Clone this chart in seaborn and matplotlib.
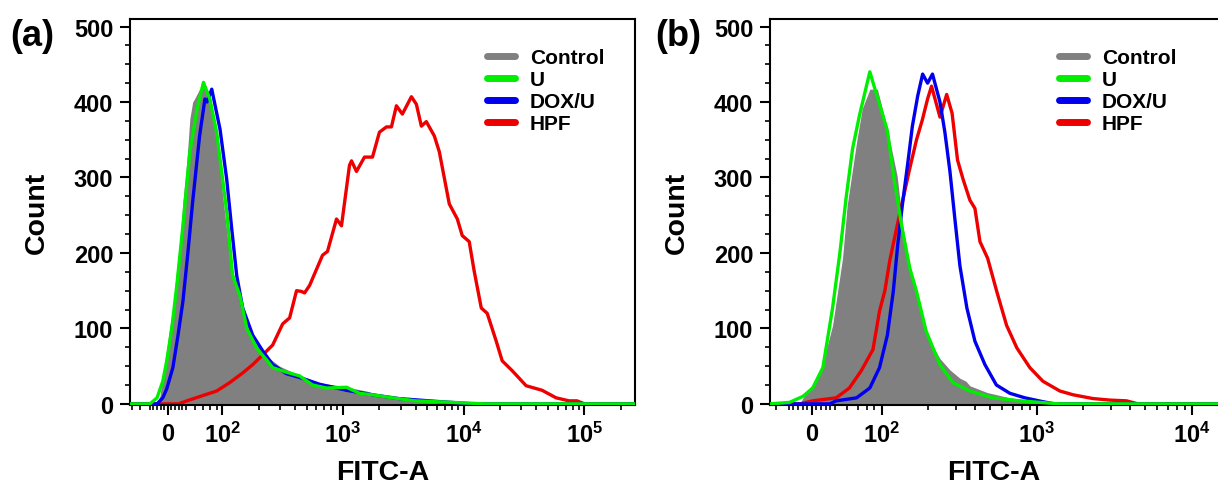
import matplotlib
matplotlib.use('Agg')
import matplotlib.pyplot as plt
from matplotlib.lines import Line2D
from matplotlib.ticker import FixedLocator, MultipleLocator
import seaborn as sb

# ---- data (x = FITC-A, y = count) ----
labels = ['Control', 'U', 'DOX/U', 'HPF']
colors = ['#808080', '#00ee00', '#0000ee', '#ee0000']

# panel (a)
a_ctrl_x = [-73, -50, -30, -22, -14, -3, 5, 14, 25, 33, 42, 51, 54, 57, 59, 65, 69, 79, 90, 101, 115, 132,
            160, 193, 234, 299, 317, 438, 640, 937, 1570, 2000, 2570, 5700, 10000, 20000, 262144]
a_ctrl_y = [0, 0, 3, 10, 38, 72, 100, 127, 180, 210, 268, 321, 378, 400, 404, 417, 420, 413, 355, 276, 197, 153,
            103, 78, 63, 50, 48, 38, 28, 24, 17, 12, 10, 5, 3, 0, 0]

a_u_x = [-73, -50, -30, -14, -3, 11, 25, 42, 54, 62, 70, 79, 90, 109, 122, 140, 160, 193, 217, 234, 262, 341,
         438, 560, 732, 1070, 1370, 1760, 2570, 4000, 8000, 15000, 262144]
a_u_y = [0, 0, 8, 30, 57, 100, 157, 236, 334, 391, 426, 404, 360, 255, 170, 144, 100, 74, 64, 58, 48, 42,
         37, 25, 21, 22, 14, 12, 8, 4, 2, 0, 0]

a_dox_x = [-73, -30, -14, -3, 14, 28, 42, 52, 57, 65, 72, 75, 82, 96, 109, 120, 132, 148, 179, 217, 262, 341,
           438, 640, 1070, 1760, 2900, 6300, 12000, 262144]
a_dox_y = [0, 0, 8, 20, 48, 90, 136, 200, 268, 355, 404, 400, 417, 364, 298, 232, 170, 127, 91, 70, 52, 40,
           35, 26, 18, 12, 7, 3, 0, 0]

a_hpf_x = [-73, 30, 51, 69, 90, 115, 148, 179, 217, 262, 317, 362, 413, 454, 481, 530, 560, 678, 745, 885, 973,
           1133, 1178, 1295, 1508, 1757, 2006, 2293, 2521, 2773, 3106, 3689, 4058, 4462, 4903, 5715, 6284, 7597,
           8857, 9727, 11110, 12212, 13987, 15656, 18602, 20839, 25205, 32908, 44588, 58255, 74514, 86727,
           100000, 262144]
a_hpf_y = [0, 0, 4, 11, 17, 28, 41, 52, 65, 78, 106, 114, 150, 149, 147, 157, 166, 197, 202, 245, 236,
           316, 322, 308, 327, 327, 360, 367, 367, 395, 384, 407, 397, 368, 374, 355, 334, 265,
           245, 223, 215, 176, 127, 120, 83, 57, 44, 24, 18, 8, 4, 4,
           0, 0]

# panel (b)
b_ctrl_x = [-66, -26, -19, -4, 17, 45, 56, 60, 69, 75, 84, 94, 108, 126, 137, 152, 177, 205, 238, 276, 320,
            350, 371, 480, 672, 1050, 1600, 14770]
b_ctrl_y = [0, 0, 8, 21, 38, 104, 193, 263, 347, 391, 417, 417, 368, 302, 236, 183, 123, 83, 60, 45, 34,
            30, 24, 15, 8, 3, 0, 0]

b_u_x = [-66, -48, -19, 2, 24, 45, 54, 59, 65, 72, 84, 97, 109, 120, 135, 152, 168, 194, 238, 289, 371, 520,
         780, 1400, 14770]
b_u_y = [0, 2, 10, 21, 48, 127, 202, 272, 338, 382, 440, 397, 362, 300, 235, 180, 149, 96, 52, 28, 17, 8,
         4, 0, 0]

b_dox_x = [-66, 39, 51, 69, 84, 97, 109, 119, 127, 137, 148, 158, 171, 184, 198, 213, 238, 256, 276, 297, 320,
           355, 400, 464, 550, 672, 840, 1090, 1300, 14770]
b_dox_y = [0, 0, 4, 8, 21, 48, 91, 149, 210, 268, 321, 368, 408, 437, 425, 437, 400, 360, 308, 245, 183,
           127, 83, 52, 25, 14, 8, 3, 0, 0]

b_hpf_x = [-66, -26, 2, 51, 62, 74, 88, 97, 105, 113, 126, 137, 152, 168, 183, 198, 210, 238, 263, 285, 309,
           335, 371, 400, 431, 483, 553, 640, 746, 904, 1097, 1413, 1721, 2314, 2970, 3800, 4500, 14770]
b_hpf_y = [0, 0, 4, 8, 21, 44, 72, 123, 150, 190, 236, 270, 312, 350, 376, 404, 421, 380, 410, 385, 323,
           298, 270, 259, 215, 193, 149, 104, 74, 48, 30, 17, 12, 7, 5, 4, 0, 0]

a_xlim = (-73, 262144)
b_xlim = (-66, 14770)
a_major = [0, 100, 1000, 10000, 100000]
b_major = [0, 100, 1000, 10000]
major_labels = ['0', r'$\mathbf{10^{2}}$', r'$\mathbf{10^{3}}$', r'$\mathbf{10^{4}}$', r'$\mathbf{10^{5}}$']
minor_ticks = ([-70, -60, -50, -40, -30, -20, -10, 10, 20, 30, 40, 50, 60, 70, 80, 90]
               + [200, 300, 400, 500, 600, 700, 800, 900]
               + [2000, 3000, 4000, 5000, 6000, 7000, 8000, 9000]
               + [20000, 30000, 40000, 50000, 60000, 70000, 80000, 90000, 200000])

sb.set_style('ticks')
plt.rcParams['font.family'] = ['Liberation Sans', 'DejaVu Sans']
plt.rcParams['font.weight'] = 'bold'
plt.rcParams['mathtext.fontset'] = 'custom'
plt.rcParams['mathtext.bf'] = 'Liberation Sans:bold'
plt.rcParams['mathtext.rm'] = 'Liberation Sans:bold'
for key in ['text.color', 'axes.labelcolor', 'xtick.color', 'ytick.color', 'axes.edgecolor']:
    plt.rcParams[key] = 'black'

fig = plt.figure(figsize=(12.18, 4.85), dpi=100)
ax_a = fig.add_axes([130 / 1218, 79 / 485, 505 / 1218, 386 / 485])
ax_b = fig.add_axes([770 / 1218, 79 / 485, 448 / 1218, 386 / 485])


def draw_panel(ax, ctrl, u, dox, hpf, xlim, major, legend_x):
    ax.fill_between(ctrl[0], ctrl[1], 0, color=colors[0], linewidth=0, zorder=1)
    sb.lineplot(x=hpf[0], y=hpf[1], ax=ax, color=colors[3], lw=2.4, estimator=None, zorder=2)
    sb.lineplot(x=dox[0], y=dox[1], ax=ax, color=colors[2], lw=2.4, estimator=None, zorder=3)
    sb.lineplot(x=u[0], y=u[1], ax=ax, color=colors[1], lw=2.4, estimator=None, zorder=4)

    ax.set_xscale('symlog', linthresh=50, linscale=0.134, base=10)
    ax.set_xlim(*xlim)
    ax.set_ylim(-1.5, 510)

    ax.xaxis.set_major_locator(FixedLocator(major))
    ax.set_xticklabels(major_labels[:len(major)])
    ax.xaxis.set_minor_locator(FixedLocator([t for t in minor_ticks if xlim[0] < t < xlim[1]]))
    ax.yaxis.set_major_locator(MultipleLocator(100))
    ax.yaxis.set_minor_locator(MultipleLocator(25))

    ax.tick_params(which='major', direction='out', length=7, width=1.5, labelsize=17, pad=5)
    ax.tick_params(which='minor', direction='out', length=3.5, width=1.2)
    for lab in ax.get_xticklabels() + ax.get_yticklabels():
        lab.set_fontweight('bold')
    for s in ax.spines.values():
        s.set_linewidth(1.5)
        s.set_color('black')

    ax.set_xlabel('FITC-A', fontsize=20.5, fontweight='bold')
    ax.set_ylabel('Count', fontsize=20.5, fontweight='bold')

    handles = [Line2D([0], [0], color=c, lw=5) for c in colors]
    ax.legend(handles, labels, loc='upper left', bbox_to_anchor=(legend_x, 0.925), frameon=False,
              prop={'size': 15, 'weight': 'bold'}, handlelength=1.35, handletextpad=0.7,
              labelspacing=0.15, borderpad=0, borderaxespad=0)


draw_panel(ax_a, (a_ctrl_x, a_ctrl_y), (a_u_x, a_u_y), (a_dox_x, a_dox_y), (a_hpf_x, a_hpf_y),
           a_xlim, a_major, 0.707)
draw_panel(ax_b, (b_ctrl_x, b_ctrl_y), (b_u_x, b_u_y), (b_dox_x, b_dox_y), (b_hpf_x, b_hpf_y),
           b_xlim, b_major, 0.645)
ax_b.spines['right'].set_visible(False)

ax_a.yaxis.set_label_coords(-0.158, 0.5)
ax_b.yaxis.set_label_coords(-0.179, 0.5)
ax_a.xaxis.set_label_coords(0.5, -0.141)
ax_b.xaxis.set_label_coords(0.5, -0.141)

fig.text(10 / 1218, 1 - 36 / 485, '(a)', fontsize=26, fontweight='bold', va='center', ha='left')
fig.text(655 / 1218, 1 - 36 / 485, '(b)', fontsize=26, fontweight='bold', va='center', ha='left')

plt.savefig('out.png', dpi=100)
